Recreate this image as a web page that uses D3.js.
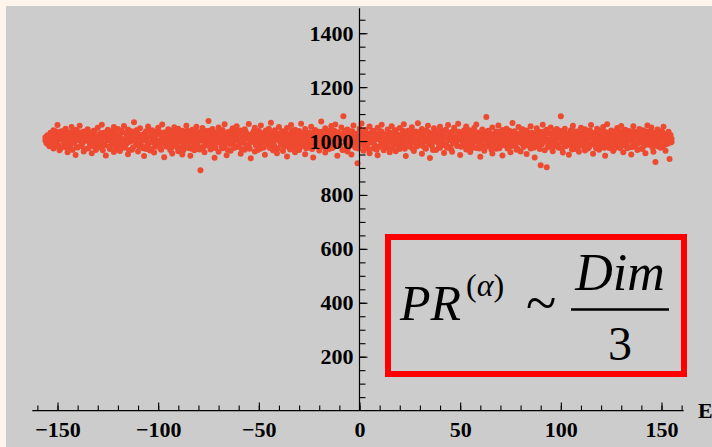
<!DOCTYPE html>
<html>
<head>
<meta charset="utf-8">
<script src="https://cdn.jsdelivr.net/npm/d3@7"></script>
<style>
  html, body { margin: 0; padding: 0; background: #fdf4ec; }
  svg { display: block; }
</style>
</head>
<body>
<div id="chart"></div>
<script>
// Each row: energy E, then the PR^(alpha) values of the states read at that E
const samples = [
  [-156,1002,1014],[-155,990,1021],[-154,1008,981],[-153,1027,995],[-152,1011,972,1040],[-151,985,1018],
  [-150,1059,1003],[-149,966,1024],[-148,1009,1036],[-147,979,998],[-146,1046,1015],[-145,958,1029],
  [-144,1004,987],[-143,1032,969,1052],[-142,1017,994],[-141,948,1041],[-140,1006,976],[-139,1023,1057],
  [-138,989,1012],[-137,1035,961],[-136,1001,1019],[-135,972,1044],[-134,1013,993],[-133,955,1027],
  [-132,1038,1005,981],[-131,1016,967],[-130,996,1049],[-129,1024,977],[-128,1060,1008],[-127,984,1031],
  [-126,946,1015],[-125,1003,1042],[-124,970,1021],[-123,1037,992],[-122,1011,959,1052],[-121,1026,983],
  [-120,998,1045],[-119,963,1018],[-118,1034,1002],[-117,975,1056],[-116,1009,988],[-115,1043,951],
  [-114,1020,997],[-113,968,1030],[-112,1070,1006],[-111,986,1039],[-110,1014,961],[-109,1047,993],
  [-108,979,1023],[-107,1005,944],[-106,1036,1016,970],[-105,990,1054],[-104,1019,965],[-103,1001,1040],
  [-102,957,1012],[-101,1028,983],[-100,1049,997],[-99,972,1033],[-98,1008,1061],[-97,940,1025],
  [-96,1015,980],[-95,1044,999],[-94,967,1021],[-93,1035,954],[-92,1003,1051],[-91,988,1017],
  [-90,1029,962,1046],[-89,1010,976],[-88,950,1038],[-87,1022,993],[-86,1057,1007],[-85,974,1031],
  [-84,1013,945],[-83,996,1042],[-82,1026,966],[-81,982,1053],[-80,1018,1001],[-79,892,1034],
  [-78,1048,978],[-77,1009,958],[-76,1037,991],[-75,1074,1016],[-74,969,1027],[-73,1004,1045],
  [-72,986,938],[-71,1032,1012],[-70,960,1050],[-69,1020,995],[-68,1041,973],[-67,1006,1062,984],
  [-66,947,1024],[-65,1015,999],[-64,1036,964],[-63,990,1047],[-62,1011,975],[-61,1055,1028],
  [-60,982,1003],[-59,1039,953],[-58,1017,994],[-57,968,1044],[-56,1025,1008],[-55,1063,979],
  [-54,997,936],[-53,1030,1014],[-52,961,1049],[-51,1002,985],[-50,1037,1021],[-49,972,1058],
  [-48,1010,992],[-47,949,1033],[-46,1026,1005],[-45,983,1046],[-44,1068,1016],[-43,966,999],
  [-42,1040,1019,977],[-41,955,1029],[-40,1007,1052],[-39,988,1013],[-38,1035,963],[-37,1022,996],
  [-36,943,1048],[-35,1011,980],[-34,1059,1030],[-33,973,1003],[-32,1042,958],[-31,1018,991],
  [-30,967,1037],[-29,1006,1064],[-28,985,1024],[-27,1045,951],[-26,1014,998],[-25,976,1032],
  [-24,1053,1009],[-23,939,1021],[-22,1001,1041],[-21,982,1015],[-20,1034,965],[-19,1072,1004],
  [-18,990,1027],[-17,957,1047],[-16,1019,995],[-15,1038,970],[-14,1008,1056],[-13,978,1025],
  [-12,1061,1002],[-11,945,1033],[-10,1016,987],[-9,1050,1012],[-8,1092,968],[-7,1027,1000],
  [-6,961,1043],[-5,1013,983],[-4,1036,950],[-3,998,1058],[-2,1022,975],[-1,918,1009],
  [0,1046,990],[1,1017,1065],[2,964,1030],[3,1004,1041],[4,986,1019],[5,1054,955],
  [6,1011,996],[7,972,1037],[8,1028,1006],[9,947,1049],[10,1015,981],[11,1034,1060],
  [12,993,966],[13,1023,1008],[14,1043,977],[15,958,1018],[16,1003,1055],[17,987,1032],
  [18,1040,962],[19,1012,995],[20,970,1048],[21,1026,1005],[22,1062,984],[23,944,1021],
  [24,1009,1038],[25,979,1000],[26,1051,1016],[27,963,1029],[28,1035,991],[29,1002,1066],
  [30,985,1024],[31,1045,953],[32,1014,998],[33,971,1039],[34,1057,1010],[35,937,1027],
  [36,1006,982],[37,1031,1047],[38,967,1013],[39,1020,994],[40,1053,975],[41,1001,1036],
  [42,956,1018],[43,1042,988],[44,1011,1059],[45,978,1025],[46,1034,960],[47,1004,1049],
  [48,990,1016],[49,1064,1030],[50,948,1008],[51,1022,983],[52,1040,1000],[53,969,1054],
  [54,1015,992],[55,1037,959],[56,986,1026],[57,1048,1009],[58,1061,974],[59,997,1032],
  [60,1019,942],[61,1043,1005],[62,964,1023],[63,1089,1012],[64,981,1038],[65,1028,995],
  [66,954,1050],[67,1007,1017],[68,1035,971],[69,992,1058],[70,1020,1001],[71,946,1041],
  [72,1013,984],[73,1046,1025],[74,976,1004],[75,1030,958],[76,1067,1015],[77,989,1036],
  [78,1009,968],[79,1052,997],[80,961,1022],[81,1018,1044],[82,984,1003],[83,1039,952],
  [84,1006,1027],[85,972,1055],[86,1024,993],[87,939,1014],[88,1047,1031],[89,998,978],
  [90,910,1019],[91,1034,1060],[92,1011,966],[93,903,1042],[94,987,1005],[95,1028,1050],
  [96,962,1016],[97,1003,1037],[98,1045,980],[99,975,1024],[100,1092,1009],[101,993,957],
  [102,1030,1046],[103,1012,985],[104,949,1021],[105,1040,1001],[106,982,1057],[107,1017,970],
  [108,1035,996],[109,960,1027],[110,1008,1049],[111,988,1014],[112,1044,965],[113,1023,1002],
  [114,977,1038],[115,1059,1011],[116,953,990],[117,1031,1019],[118,1000,1046],[119,968,1025],
  [120,1013,985],[121,1052,1036],[122,945,1006],[123,1021,1062],[124,994,974],[125,1039,1015],
  [126,963,1029],[127,1010,991],[128,1048,980],[129,986,1033],[130,1025,1056],[131,958,1004],
  [132,1016,1042],[133,973,997],[134,1037,1020],[135,1003,950],[136,1055,1012],[137,982,1030],
  [138,1027,967],[139,1001,1045],[140,971,1018],[141,1040,993],[142,1009,955],[143,1034,1058],
  [144,989,1022],[145,1050,1006],[146,960,1031],[147,922,1015],[148,1043,981],[149,1019,999],
  [150,978,1036],[151,1053,1011],[152,1002,964],[153,1028,990],[154,933,1017],[155,1008,996]
];

// Denser core of the band, read between the columns above
const coreSamples = [
  [-155.5,1006,993],[-154.5,1019,987],[-153.5,998,1031],[-152.5,1024,1003],[-151.5,979,1012],[-150.5,1035,996],
  [-149.5,1010,984],[-148.5,972,1021],[-147.5,1028,1005],[-146.5,991,1037],[-145.5,1015,976],[-144.5,1033,1000],
  [-143.5,986,1018],[-142.5,1008,968],[-141.5,1026,995],[-140.5,977,1039],[-139.5,1004,1014],[-138.5,1032,982],
  [-137.5,993,1022],[-136.5,970,1009],[-135.5,1018,1036],[-134.5,1001,974],[-133.5,1029,990],[-132.5,985,1011],
  [-131.5,1038,1020],[-130.5,975,1002],[-129.5,1013,992],[-128.5,997,1030],[-127.5,1022,966],[-126.5,988,1017],
  [-125.5,1034,1006],[-124.5,980,1026],[-123.5,1011,971],[-122.5,999,1035],[-121.5,1027,990],[-120.5,969,1015],
  [-119.5,1020,1003],[-118.5,983,1039],[-117.5,1007,994],[-116.5,1031,978],[-115.5,992,1024],[-114.5,1016,967],
  [-113.5,1036,1000],[-112.5,976,1012],[-111.5,1003,1028],[-110.5,989,1040],[-109.5,1023,981],[-108.5,1009,996],
  [-107.5,973,1019],[-106.5,1030,1004],[-105.5,984,1013],[-104.5,1038,993],[-103.5,1017,970],[-102.5,995,1026],
  [-101.5,1008,979],[-100.5,1025,1036],[-99.5,987,1002],[-98.5,968,1021],[-97.5,1012,990],[-96.5,1033,1007],
  [-95.5,980,1016],[-94.5,1004,1040],[-93.5,991,973],[-92.5,1027,1011],[-91.5,1000,985],[-90.5,975,1032],
  [-89.5,1019,997],[-88.5,1037,1008],[-87.5,982,966],[-86.5,1014,1025],[-85.5,994,1039],[-84.5,1029,977],
  [-83.5,971,1005],[-82.5,1010,988],[-81.5,1035,1018],[-80.5,986,999],[-79.5,1022,969],[-78.5,1001,1034],
  [-77.5,978,1013],[-76.5,1026,992],[-75.5,1007,983],[-74.5,990,1038],[-73.5,1016,972],[-72.5,1032,1003],
  [-71.5,974,1020],[-70.5,1011,995],[-69.5,997,1029],[-68.5,1036,981],[-67.5,985,1010],[-66.5,1021,1001],
  [-65.5,968,1033],[-64.5,1005,989],[-63.5,1028,1015],[-62.5,993,976],[-61.5,1012,1037],[-60.5,979,1022],
  [-59.5,1031,998],[-58.5,1002,970],[-57.5,1018,1008],[-56.5,988,1035],[-55.5,1024,984],[-54.5,971,1014],
  [-53.5,1009,996],[-52.5,1037,1025],[-51.5,983,1004],[-50.5,1015,967],[-49.5,996,1030],[-48.5,1027,988],
  [-47.5,976,1011],[-46.5,1006,1039],[-45.5,1020,994],[-44.5,989,974],[-43.5,1033,1013],[-42.5,1000,985],
  [-41.5,1016,1028],[-40.5,972,1007],[-39.5,1023,997],[-38.5,994,1036],[-37.5,1008,978],[-36.5,1029,1017],
  [-35.5,982,1001],[-34.5,1012,969],[-33.5,1038,990],[-32.5,987,1021],[-31.5,1004,1033],[-30.5,1025,980],
  [-29.5,977,1010],[-28.5,1014,995],[-27.5,999,1031],[-26.5,1032,973],[-25.5,986,1006],[-24.5,1019,1024],
  [-23.5,970,990],[-22.5,1007,1037],[-21.5,1028,1001],[-20.5,992,983],[-19.5,1017,1012],[-18.5,979,1034],
  [-17.5,1036,996],[-16.5,1003,971],[-15.5,989,1020],[-14.5,1024,1009],[-13.5,974,993],[-12.5,1013,1038],
  [-11.5,997,982],[-10.5,1031,1005],[-9.5,984,1026],[-8.5,1010,967],[-7.5,1037,1015],[-6.5,993,1002],
  [-5.5,976,1029],[-4.5,1020,988],[-3.5,1005,1035],[-2.5,981,1011],[-1.5,1027,997],[-0.5,1002,972],
  [0.5,1016,1033],[1.5,987,1008],[2.5,1034,980],[3.5,1012,995],[4.5,970,1023],[5.5,1029,1003],
  [6.5,994,1038],[7.5,1008,985],[8.5,1021,968],[9.5,978,1014],[10.5,1036,999],[11.5,1004,1026],
  [12.5,983,1010],[13.5,1017,975],[14.5,996,1032],[15.5,1030,1006],[16.5,973,990],[17.5,1013,1039],
  [18.5,1025,1001],[19.5,986,977],[20.5,1009,1020],[21.5,1038,993],[22.5,971,1012],[23.5,1003,1029],
  [24.5,1022,984],[25.5,990,1035],[26.5,1015,970],[27.5,1031,1007],[28.5,980,997],[29.5,1011,1024],
  [30.5,995,1037],[31.5,1027,982],[32.5,974,1016],[33.5,1006,1002],[34.5,1033,989],[35.5,988,1021],
  [36.5,1019,967],[37.5,999,1030],[38.5,1036,1010],[39.5,977,994],[40.5,1014,1027],[41.5,1024,985],
  [42.5,985,1039],[43.5,1008,975],[44.5,1030,1003],[45.5,969,1018],[46.5,1017,992],[47.5,1039,1012],
  [48.5,982,1001],[49.5,1005,1034],[50.5,1021,979],[51.5,996,1015],[52.5,1028,988],[53.5,976,1025],
  [54.5,1010,1040],[55.5,991,971],[56.5,1034,1006],[57.5,1003,997],[58.5,1018,1028],[59.5,972,987],
  [60.5,1026,1013],[61.5,985,1036],[62.5,1012,977],[63.5,1035,1000],[64.5,998,1022],[65.5,1015,968],
  [66.5,980,1009],[67.5,1029,994],[68.5,1004,1033],[69.5,973,1016],[70.5,1037,986],[71.5,989,1025],
  [72.5,1020,1005],[73.5,995,972],[74.5,1013,1038],[75.5,981,999],[76.5,1032,1019],[77.5,1007,984],
  [78.5,970,1027],[79.5,1023,1011],[80.5,992,1035],[81.5,1016,978],[82.5,1036,1001],[83.5,984,1014],
  [84.5,1009,990],[85.5,1028,1032],[86.5,975,1005],[87.5,1019,983],[88.5,1001,1023],[89.5,1034,970],
  [90.5,987,1012],[91.5,1014,996],[92.5,1025,1038],[93.5,978,1007],[94.5,1006,1029],[95.5,993,974],
  [96.5,1031,1017],[97.5,984,1000],[98.5,1018,990],[99.5,1038,1024],[100.5,971,1011],[101.5,1010,1034],
  [102.5,997,981],[103.5,1027,1004],[104.5,986,1020],[105.5,1015,969],[106.5,1003,1036],[107.5,1032,992],
  [108.5,977,1013],[109.5,1022,1001],[110.5,990,1030],[111.5,1036,976],[112.5,1005,1017],[113.5,972,994],
  [114.5,1012,1039],[115.5,1029,987],[116.5,994,1008],[117.5,1019,973],[118.5,982,1026],[119.5,1037,1003],
  [120.5,1001,1015],[121.5,975,990],[122.5,1025,1033],[123.5,1009,980],[124.5,1030,1006],[125.5,988,1022],
  [126.5,1014,970],[127.5,999,1037],[128.5,1021,995],[129.5,973,1011],[130.5,1034,1002],[131.5,1006,984],
  [132.5,985,1028],[133.5,1016,1013],[134.5,1029,977],[135.5,978,998],[136.5,1011,1035],[137.5,1024,989],
  [138.5,992,1007],[139.5,1038,1019],[140.5,1004,971],[141.5,983,1027],[142.5,1018,1000],[143.5,1007,986],
  [144.5,1031,1036],[145.5,976,1012],[146.5,1013,993],[147.5,1026,1004],[148.5,990,1021],[149.5,1002,975],
  [150.5,1023,1032],[151.5,985,1008],[152.5,1015,993],[153.5,1034,1010],[154.5,995,1022]
];

const xTickLabels = [-150, -100, -50, 0, 50, 100, 150];
const yTickLabels = [200, 400, 600, 800, 1000, 1200, 1400];
const xAxisTitle = 'E';
const formulaMain = 'PR';
const formulaSup = '(α)';
const formulaNum = 'Dim';
const formulaDen = '3';

function renderChart() {
    const width = 712;
    const height = 447;
    const dotColor = '#ee4a30';
    const tickFont = 'Liberation Serif, Times New Roman, serif';

    const svg = d3.select('#chart').append('svg')
        .attr('width', width)
        .attr('height', height);

    // Panel gris
    svg.append('rect')
        .attr('x', 6)
        .attr('y', 6)
        .attr('width', width - 6)
        .attr('height', height - 6)
        .attr('fill', '#cccccc');

    // Escalas
    const xScale = d3.scaleLinear()
        .domain([-150, 150])
        .range([57.5, 661.5]);

    const yScale = d3.scaleLinear()
        .domain([0, 1400])
        .range([410.6, 33.2]);

    const points = samples.concat(coreSamples)
        .flatMap(([e, ...prs]) => prs.map(pr => ({ e, pr })));

    // Puntos
    svg.append('g')
        .selectAll('circle')
        .data(points)
        .enter()
        .append('circle')
        .attr('cx', d => xScale(d.e))
        .attr('cy', d => yScale(d.pr))
        .attr('r', 3)
        .attr('fill', dotColor);

    const x0 = xScale(0);
    const y0 = yScale(0);

    // Eje X: marcas hacia arriba, etiquetas debajo
    const xAxisG = svg.append('g').attr('transform', `translate(0, ${y0})`);
    xAxisG.append('g')
        .call(d3.axisTop(xScale).tickValues(d3.range(-160, 161, 10)).tickSize(5).tickFormat(''));
    xAxisG.append('g')
        .call(d3.axisTop(xScale).tickValues(xTickLabels).tickSize(8).tickFormat(''));
    xAxisG.append('g')
        .call(d3.axisBottom(xScale).tickValues(xTickLabels).tickSize(0).tickPadding(11))
        .selectAll('text')
        .attr('fill', '#000')
        .style('font-family', tickFont)
        .style('font-weight', 'bold')
        .style('font-size', '22px');
    xAxisG.selectAll('.domain').remove();
    xAxisG.append('line')
        .attr('x1', xScale(-162.5))
        .attr('x2', xScale(161))
        .attr('stroke', '#000')
        .attr('stroke-width', 1.2);

    // Eje Y: marcas hacia la derecha, etiquetas a la izquierda
    const yAxisG = svg.append('g').attr('transform', `translate(${x0}, 0)`);
    yAxisG.append('g')
        .call(d3.axisRight(yScale).tickValues(d3.range(50, 1451, 50)).tickSize(6).tickFormat(''));
    yAxisG.append('g')
        .call(d3.axisRight(yScale).tickValues(yTickLabels).tickSize(8).tickFormat(''));
    yAxisG.append('g')
        .call(d3.axisLeft(yScale).tickValues(yTickLabels).tickSize(0).tickPadding(6).tickFormat(d3.format('d')))
        .selectAll('text')
        .attr('fill', '#000')
        .style('font-family', tickFont)
        .style('font-weight', 'bold')
        .style('font-size', '22px');
    yAxisG.selectAll('.domain').remove();
    yAxisG.append('line')
        .attr('y1', yScale(1493))
        .attr('y2', y0)
        .attr('stroke', '#000')
        .attr('stroke-width', 1.2);

    svg.selectAll('.tick line').attr('stroke', '#000').attr('stroke-width', 1.1);

    // Título del eje X
    svg.append('text')
        .attr('x', 698)
        .attr('y', 418)
        .attr('fill', '#000')
        .style('font-family', tickFont)
        .style('font-weight', 'bold')
        .style('font-size', '22px')
        .text(xAxisTitle);

    // Recuadro con la fórmula
    const box = svg.append('g');
    box.append('rect')
        .attr('x', 388)
        .attr('y', 237)
        .attr('width', 296)
        .attr('height', 137)
        .attr('fill', 'none')
        .attr('stroke', '#ff0000')
        .attr('stroke-width', 6);

    const mathFont = 'Liberation Serif, Times New Roman, serif';
    box.append('text')
        .attr('x', 400)
        .attr('y', 320)
        .style('font-family', mathFont)
        .style('font-style', 'italic')
        .style('font-size', '50px')
        .text(formulaMain);
    const sup = box.append('text')
        .attr('x', 466)
        .attr('y', 296)
        .style('font-family', mathFont)
        .style('font-size', '32px');
    sup.append('tspan').text(formulaSup[0]);
    sup.append('tspan').style('font-style', 'italic').text(formulaSup.slice(1, -1));
    sup.append('tspan').text(formulaSup.slice(-1));
    box.append('text')
        .attr('x', 526)
        .attr('y', 322)
        .style('font-family', mathFont)
        .style('font-size', '56px')
        .text('~');
    box.append('text')
        .attr('x', 620)
        .attr('y', 290)
        .attr('text-anchor', 'middle')
        .style('font-family', mathFont)
        .style('font-style', 'italic')
        .style('font-size', '52px')
        .text(formulaNum);
    box.append('line')
        .attr('x1', 571)
        .attr('x2', 669)
        .attr('y1', 309.5)
        .attr('y2', 309.5)
        .attr('stroke', '#000')
        .attr('stroke-width', 2.5);
    box.append('text')
        .attr('x', 620)
        .attr('y', 360)
        .attr('text-anchor', 'middle')
        .style('font-family', mathFont)
        .style('font-size', '48px')
        .text(formulaDen);
}

renderChart();
</script>
</body>
</html>
